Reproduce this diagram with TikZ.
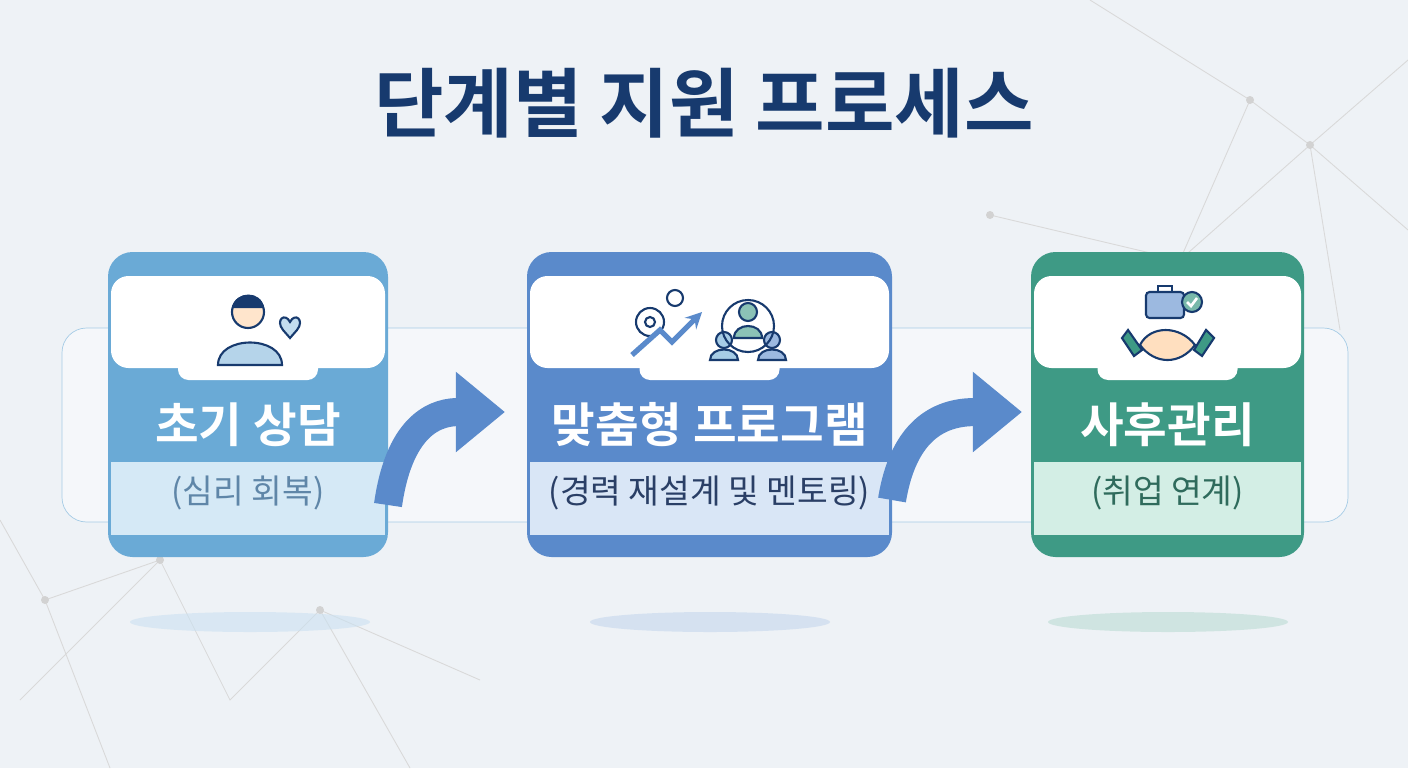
\documentclass[tikz,border=0pt]{standalone}
\usepackage{fontspec}
\newfontfamily\cjk{Noto Sans CJK KR}
\newfontfamily\cjkb{Noto Sans CJK KR Bold}
\usetikzlibrary{positioning, arrows.meta}
\definecolor{bgc}{HTML}{EEF2F6}
\definecolor{navy}{HTML}{173A6E}
\definecolor{cA}{HTML}{6AAAD6}
\definecolor{cB}{HTML}{5A8ACB}
\definecolor{cC}{HTML}{3E9A85}
\definecolor{sA}{HTML}{D5E9F6}
\definecolor{sB}{HTML}{D9E6F6}
\definecolor{sC}{HTML}{D3EEE5}
\definecolor{tA}{HTML}{5F86A8}
\definecolor{tB}{HTML}{2A3F66}
\definecolor{tC}{HTML}{2F6B5C}
\tikzset{>=stealth,
  card/.style={rounded corners=14pt, inner sep=0pt},
  head/.style={text=white, font=\cjkb\fontsize{27}{29}\selectfont},
  sub/.style={font=\cjk\fontsize{19}{21}\selectfont},
  net/.style={draw=gray!30, line width=0.5pt},
  icon/.style={line width=1.2pt, draw=navy}}
\begin{document}
\begin{tikzpicture}[x=0.02cm,y=-0.02cm]
\fill[bgc] (0,0) rectangle (1408,768);
\useasboundingbox (0,0) rectangle (1408,768);
% network in background
\draw[net] (1090,0)--(1250,100)--(1310,145)--(1408,60) (1250,100)--(1180,260)--(1310,145)--(1340,330) (990,215)--(1180,260) (1310,145)--(1408,230);
\draw[net] (0,520)--(45,600)--(160,560)--(230,700)--(320,610)--(480,680) (45,600)--(110,768) (160,560)--(20,700) (320,610)--(410,768);
\foreach \p in {(1250,100),(1310,145),(990,215),(45,600),(160,560),(320,610)} \fill[gray!35] \p circle (4);
% title
\node[text=navy, font=\cjkb\fontsize{43}{46}\selectfont] (title) at (704,103) {단계별 지원 프로세스};
% band
\draw[draw=cA!60, fill=white, fill opacity=0.45, rounded corners=14pt] (62,328) rectangle (1348,522);
% shadows
\foreach \x/\c in {250/cA,710/cB,1168/cC} \fill[\c!35, opacity=0.6] (\x,622) ellipse (120 and 10);
% cards
\foreach \l/\r/\c/\s/\n in {108/388/cA/sA/A,527/892/cB/sB/B,1031/1304/cC/sC/C}{
  \fill[\c, card] (\l,252) rectangle (\r,557);
  \fill[white, rounded corners=10pt] (\l+3,276) rectangle (\r-3,368);
  \fill[white, rounded corners=6pt] ({(\l+\r)/2-70},340) rectangle ({(\l+\r)/2+70},380);
  \fill[\s] (\l+3,462) rectangle (\r-3,535);
  \coordinate (c\n) at ({(\l+\r)/2},0);
}
\node[head] (hA) at (cA |- 0,425) {초기 상담};
\node[head] (hB) at (cB |- 0,425) {맞춤형 프로그램};
\node[head] (hC) at (cC |- 0,425) {사후관리};
\node[sub, text=tA] (bA) at (cA |- 0,493) {(심리 회복)};
\node[sub, text=tB] (bB) at (cB |- 0,493) {(경력 재설계 및 멘토링)};
\node[sub, text=tC] (bC) at (cC |- 0,493) {(취업 연계)};
% arrows
\coordinate (a1) at (388,505); \coordinate (a2) at (505,412);
\coordinate (a3) at (892,500); \coordinate (a4) at (1022,412);
\draw[cB, line width=16pt, -{Triangle[length=28pt,width=44pt]}] (a1) .. controls (400,420) and (440,412) .. (a2);
\draw[cB, line width=16pt, -{Triangle[length=28pt,width=44pt]}] (a3) .. controls (905,420) and (950,412) .. (a4);
% icon person
\begin{scope}[icon]
 \filldraw[fill=cA!50] (218,365) .. controls (218,335) and (282,335) .. (282,365) -- cycle;
 \filldraw[fill=orange!20] (248,312) circle (16);
 \fill[navy] (232,308) .. controls (235,290) and (262,290) .. (264,308) -- cycle;
 \filldraw[fill=cA!40] (283,330) .. controls (275,320) and (285,312) .. (290,322) .. controls (295,312) and (305,320) .. (297,330) -- (290,338) -- cycle;
\end{scope}
% icon program
\begin{scope}[icon]
 \draw (650,322) circle (14); \draw (650,322) circle (5);
 \draw (675,298) circle (8);
 \draw[cB, line width=3pt, ->] (632,355) -- (660,330) -- (672,342) -- (702,312);
 \filldraw[fill=cC!60] (748,312) circle (9); \filldraw[fill=cC!60] (734,338) .. controls (734,322) and (762,322) .. (762,338) -- cycle;
 \filldraw[fill=cA!60] (724,340) circle (8); \filldraw[fill=cA!60] (710,360) .. controls (710,346) and (738,346) .. (738,360) -- cycle;
 \filldraw[fill=cB!60] (772,340) circle (8); \filldraw[fill=cB!60] (758,360) .. controls (758,346) and (786,346) .. (786,360) -- cycle;
 \draw (748,326) circle (26);
\end{scope}
% icon handshake
\begin{scope}[icon]
 \filldraw[fill=cB!60, rounded corners=2pt] (1146,292) rectangle (1184,318);
 \draw (1158,292) -- (1158,286) -- (1172,286) -- (1172,292);
 \filldraw[fill=cC!70] (1192,302) circle (10);
 \draw[white, line width=1.5pt] (1187,302) -- (1191,306) -- (1197,298);
 \filldraw[fill=orange!25] (1140,345) .. controls (1150,325) and (1180,325) .. (1195,345) .. controls (1180,365) and (1155,365) .. (1140,345) -- cycle;
 \filldraw[fill=cC] (1128,330) -- (1142,350) -- (1134,356) -- (1122,338) -- cycle;
 \filldraw[fill=cC] (1206,330) -- (1194,350) -- (1202,356) -- (1214,338) -- cycle;
\end{scope}
\end{tikzpicture}
\end{document}
